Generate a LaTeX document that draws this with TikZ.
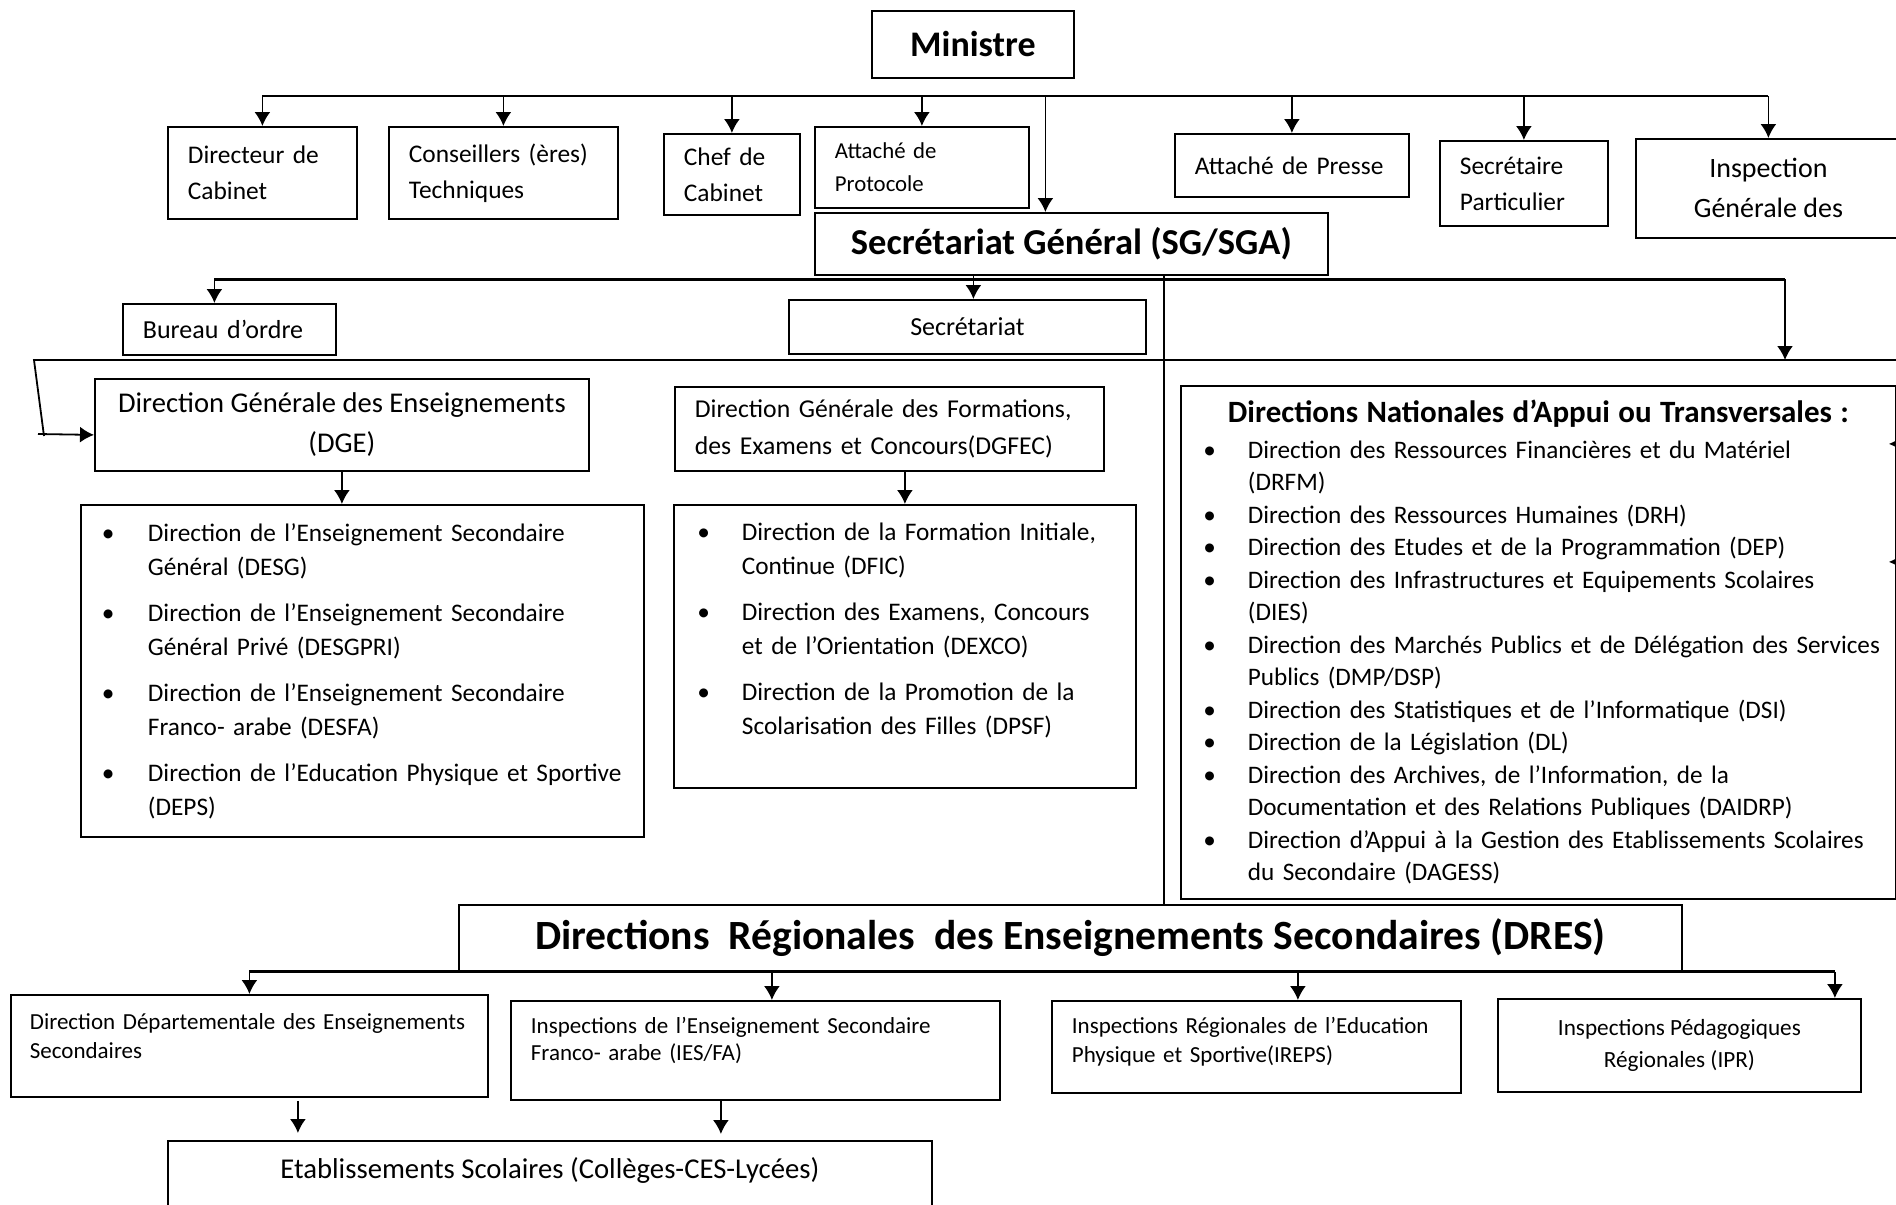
\documentclass[tikz,border=0pt]{standalone}
\usepackage{fontspec}
\setmainfont{Carlito}
\usetikzlibrary{arrows.meta}

\hyphenpenalty=10000
\exhyphenpenalty=10000
\newlength\bulletind
\newlength\textind
\newcommand\bitem[1]{\hangindent=\textind\hangafter=1\noindent\makebox[\textind][l]{\hspace{\bulletind}\textbullet}#1\par}
\newcommand\lift[1]{\par\nointerlineskip\vspace{#1}\hbox{}}

\tikzset{
	box/.style={draw, line width=0.9pt, anchor=north west, inner sep=0pt, font=\fontsize{12.7}{18}\selectfont},
	lbox/.style={box, align=left, inner xsep=10pt},
	listbox/.style={box, align=left, inner xsep=4pt},
	line/.style={line width=0.9pt},
	arr/.style={line, -{Latex[length=7pt,width=8pt]}}
}

\begin{document}
\begin{tikzpicture}[x=0.5pt, y=-0.5pt]
	\useasboundingbox (0,0) rectangle (1896,1205);
	
	% cabinet du ministre
	\node[box, minimum width=101pt, minimum height=33.5pt, font=\fontsize{18}{22}\selectfont\bfseries] (min) at (871,10) {Ministre};
	\node[lbox, text width=74.5pt, minimum height=46pt] (dir) at (167,126) {Directeur de\\Cabinet};
	\node[lbox, text width=94.5pt, minimum height=46pt] (cons) at (388,126) {Conseillers (ères)\\Techniques};
	\node[lbox, text width=48pt, minimum height=40.5pt] (chef) at (663,133) {Chef de\\Cabinet};
	\node[lbox, text width=87pt, minimum height=40.5pt, font=\fontsize{11.4}{16.5}\selectfont] (proto) at (814,126) {Attaché de\\Protocole};
	\node[lbox, text width=97pt, minimum height=31.5pt] (presse) at (1174,133) {Attaché de Presse};
	\node[lbox, text width=64pt, minimum height=42.5pt] (secp) at (1439,140) {Secrétaire\\Particulier};
	\node[box, align=center, minimum width=132.5pt, minimum height=49.5pt, font=\fontsize{14}{20}\selectfont] (insp) at (1635,138) {Inspection\\Générale des};
	
	\coordinate (bus1) at (0,96);
	\draw[line] (dir.north |- bus1) -- (insp.north |- bus1);
	\foreach \b in {dir,cons,chef,proto,presse,secp,insp}
		\draw[arr] (\b.north |- bus1) -- (\b.north);
	
	% secretariat general
	\node[box, minimum width=256.5pt, minimum height=31pt, font=\fontsize{18.25}{22}\selectfont\bfseries] (sg) at (814,212) {Secrétariat Général (SG/SGA)};
	\coordinate (sgin) at ([xshift=-13pt]sg.north);
	\draw[arr] (sgin |- bus1) -- (sgin);
	
	\node[lbox, text width=86.5pt, minimum height=25.5pt, font=\fontsize{13}{18}\selectfont] (bur) at (122,303) {Bureau d’ordre};
	\node[box, minimum width=178.5pt, minimum height=27pt, font=\fontsize{13}{18}\selectfont] (sec) at (788,299) {Secrétariat};
	
	\coordinate (bus2) at (0,279);
	\coordinate (burin) at ([xshift=-7.5pt]bur.north);
	\coordinate (secin) at ([xshift=3pt]sec.north);
	\coordinate (dnain) at (1785,360);
	\draw[line, line width=1.5pt] (burin |- bus2) -- (dnain |- bus2);
	\draw[arr] (burin |- bus2) -- (burin);
	\draw[arr] (secin |- sg.south) -- (secin);
	\draw[arr] (dnain |- bus2) -- (dnain);
	
	% directions generales
	\node[box, align=center, minimum width=247pt, minimum height=46pt, font=\fontsize{14.3}{20}\selectfont] (dge) at (94,378) {Direction Générale des Enseignements\\(DGE)};
	\node[listbox, text width=273.5pt, minimum height=166pt, font=\fontsize{12.65}{17}\selectfont] (dgel) at (80,504) {%
		\setlength\bulletind{6.5pt}\setlength\textind{29.5pt}\setlength\parskip{6pt}%
		\bitem{Direction de l’Enseignement Secondaire\newline Général (DESG)}
		\bitem{Direction de l’Enseignement Secondaire\newline Général Privé (DESGPRI)}
		\bitem{Direction de l’Enseignement Secondaire\newline Franco- arabe (DESFA)}
		\bitem{Direction de l’Education Physique et Sportive\newline (DEPS)}};
	
	\node[lbox, text width=194.5pt, minimum height=42pt, font=\fontsize{12.85}{18.5}\selectfont] (dgf) at (674,386) {Direction Générale des Formations,\\des Examens et Concours(DGFEC)};
	\node[listbox, text width=223pt, minimum height=141.5pt, font=\fontsize{12.65}{17}\selectfont] (dgfl) at (673,504) {%
		\setlength\bulletind{7.75pt}\setlength\textind{30pt}\setlength\parskip{6pt}%
		\bitem{Direction de la Formation Initiale,\newline Continue (DFIC)}
		\bitem{Direction des Examens, Concours\newline et de l’Orientation (DEXCO)}
		\bitem{Direction de la Promotion de la\newline Scolarisation des Filles (DPSF)}\lift{15.5pt}};
	
	\coordinate (l3l) at (34,360);
	\coordinate (l3b) at (44,436);
	\coordinate (dgefrom) at (38,434);
	\coordinate (dgein) at ([yshift=-5pt]dge.west);
	\draw[line] (l3b) -- (l3l) -- (1910,360);
	\draw[arr] (dgefrom) -- (dgein);
	\draw[arr] (dge.south) -- (dge.south |- dgel.north);
	\draw[arr] (dgfl.north |- dgf.south) -- (dgfl.north);
	
	% directions nationales
	\node[listbox, text width=349.5pt, minimum height=256.5pt, font=\fontsize{12.6}{16.25}\selectfont] (dna) at (1180,385) {%
		\setlength\bulletind{7.25pt}\setlength\textind{29.5pt}%
		\makebox[\linewidth]{\fontsize{15.5}{18}\selectfont\bfseries Directions Nationales d’Appui ou Transversales :}\par\vspace{1.5pt}
		\bitem{Direction des Ressources Financières et du Matériel\newline (DRFM)}
		\bitem{Direction des Ressources Humaines (DRH)}
		\bitem{Direction des Etudes et de la Programmation (DEP)}
		\bitem{Direction des Infrastructures et Equipements Scolaires\newline (DIES)}
		\bitem{Direction des Marchés Publics et de Délégation des Services\newline Publics (DMP/DSP)}
		\bitem{Direction des Statistiques et de l’Informatique (DSI)}
		\bitem{Direction de la Législation (DL)}
		\bitem{Direction des Archives, de l’Information, de la\newline Documentation et des Relations Publiques (DAIDRP)}
		\bitem{Direction d’Appui à la Gestion des Etablissements Scolaires\newline du Secondaire (DAGESS)}};
	\draw[arr] ([xshift=12pt,yshift=99.25pt]dna.east) -- ([xshift=-4pt,yshift=99.25pt]dna.east);
	\draw[arr] ([xshift=12pt,yshift=40.25pt]dna.east) -- ([xshift=-4pt,yshift=40.25pt]dna.east);
	
	% directions regionales
	\node[box, minimum width=611.5pt, minimum height=33pt, font=\fontsize{20.8}{24}\selectfont\bfseries] (dres) at (458,904) {Directions\ \ Régionales\ \ des Enseignements Secondaires (DRES)};
	\coordinate (vtop) at ([xshift=46.25pt]sg.south);
	\draw[line] (vtop) -- (vtop |- dres.north);
	
	\node[lbox, inner xsep=9.5pt, text width=219.5pt, minimum height=51pt, font=\fontsize{11.5}{14.5}\selectfont] (ddes) at (10,994) {\mbox{Direction Départementale des Enseignements}\\Secondaires\lift{10pt}};
	\node[lbox, text width=224.5pt, minimum height=49.5pt, font=\fontsize{11.5}{13.5}\selectfont] (ies) at (510,1000) {Inspections de l’Enseignement Secondaire\\Franco- arabe (IES/FA)\lift{9.7pt}};
	\node[lbox, text width=184.5pt, minimum height=46pt, font=\fontsize{11.5}{14.5}\selectfont] (ireps) at (1051,1000) {Inspections Régionales de l’Education\\Physique et Sportive(IREPS)\lift{4.8pt}};
	\node[box, align=center, minimum width=181.5pt, minimum height=46.5pt, font=\fontsize{11.6}{16}\selectfont] (ipr) at (1497,998) {Inspections Pédagogiques\\Régionales (IPR)};
	
	\coordinate (iesin) at ([xshift=8.25pt]ies.north);
	\coordinate (irepsin) at ([xshift=20.75pt]ireps.north);
	\coordinate (iprin) at ([xshift=77.75pt]ipr.north);
	\draw[line, line width=1.4pt] (ddes.north |- dres.south) -- (iprin |- dres.south);
	\foreach \b in {ddes.north,iesin,irepsin,iprin}
		\draw[arr] (\b |- dres.south) -- (\b);
	
	% etablissements
	\node[box, minimum width=382pt, minimum height=37.5pt, text height=10pt, text depth=10pt, font=\fontsize{14.35}{17}\selectfont] (etab) at (167,1140) {Etablissements Scolaires (Collèges-CES-Lycées)};
	\coordinate (etab1) at ([xshift=24.25pt]ddes.south);
	\coordinate (etab2) at ([xshift=-17.25pt]ies.south);
	\draw[arr, shorten <=1.5pt, shorten >=3.5pt] (etab1) -- (etab1 |- etab.north);
	\draw[arr, shorten >=3pt] (etab2) -- (etab2 |- etab.north);
\end{tikzpicture}
\end{document}
